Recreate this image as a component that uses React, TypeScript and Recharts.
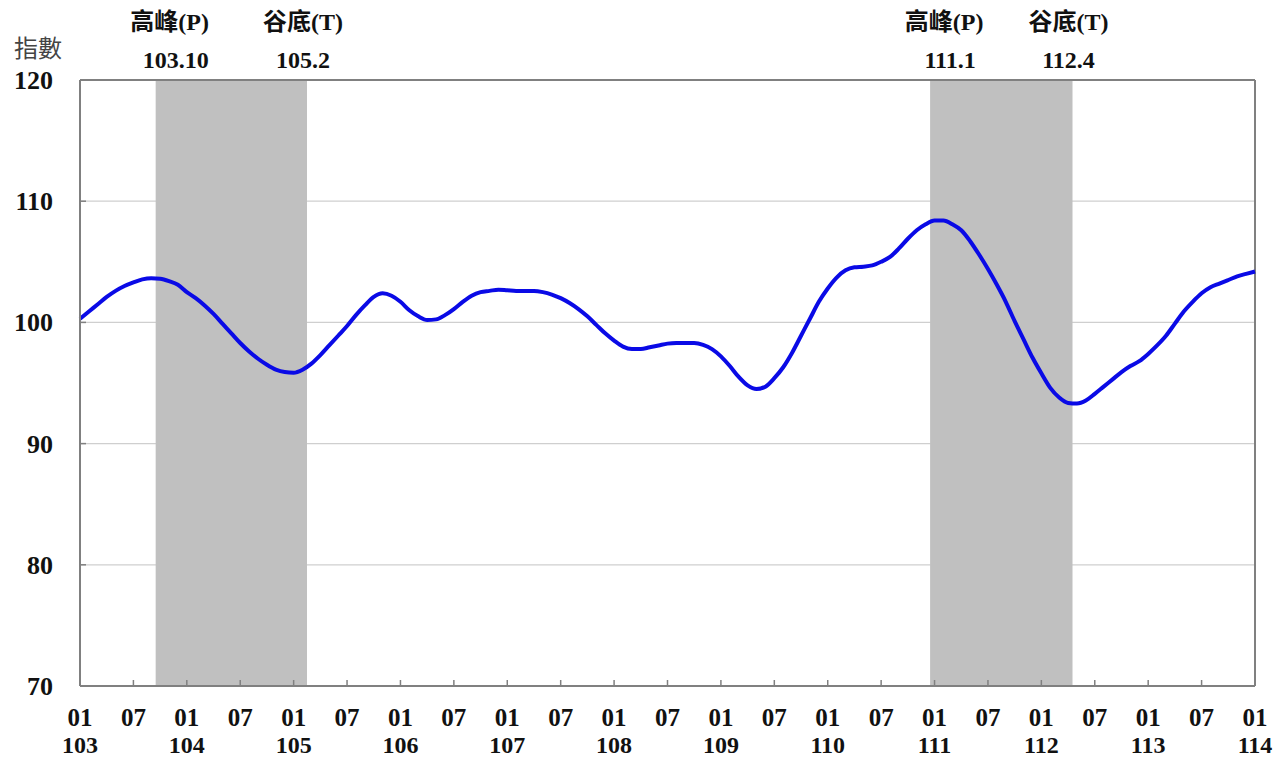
import React from "react"
import { LineChart, Line, XAxis, YAxis, CartesianGrid, ReferenceArea, ReferenceLine } from "recharts"

// monthly index, 103.01 .. 114.01
const values = [
  100.3, 100.9, 101.5, 102.1, 102.6, 103.0, 103.3, 103.55, 103.65, 103.6, 103.4, 103.1,
  102.5, 102.0, 101.4, 100.7, 99.9, 99.1, 98.3, 97.6, 97.0, 96.5, 96.1, 95.9,
  95.85, 96.1, 96.6, 97.3, 98.1, 98.9, 99.7, 100.6, 101.4, 102.1, 102.4, 102.2,
  101.7, 101.0, 100.5, 100.2, 100.25, 100.6, 101.1, 101.7, 102.2, 102.5, 102.6, 102.7,
  102.65, 102.6, 102.6, 102.6, 102.5, 102.3, 102.0, 101.6, 101.1, 100.5, 99.8, 99.1,
  98.5, 98.0, 97.8, 97.8, 97.95, 98.1, 98.25, 98.3, 98.3, 98.3, 98.15, 97.8,
  97.2, 96.4, 95.5, 94.8, 94.5, 94.7, 95.4, 96.3, 97.5, 98.9, 100.3, 101.7,
  102.8, 103.7, 104.3, 104.55, 104.6, 104.7, 105.0, 105.4, 106.1, 106.9, 107.6, 108.1,
  108.4, 108.4, 108.1, 107.6, 106.7, 105.6, 104.4, 103.1, 101.7, 100.1, 98.6, 97.1,
  95.8, 94.6, 93.8, 93.35, 93.3, 93.55, 94.1, 94.7, 95.3, 95.9, 96.4, 96.8,
  97.4, 98.1, 98.9, 99.9, 100.9, 101.7, 102.4, 102.9, 103.2, 103.5, 103.8, 104.0,
  104.2,
]

const startYear = 103
const yTicks = [70, 80, 90, 100, 110, 120]
const xTicks = Array.from({ length: 23 }, (_, i) => i * 6)

// business cycle phases: month index of peak and trough (0 = 103.01)
const cycles = [
  { peak: 9, trough: 25, peakLabel: "103.10", troughLabel: "105.2" },
  { peak: 96, trough: 111, peakLabel: "111.1", troughLabel: "112.4" },
]

const data = values.map((v, i) => ({ m: i, v }))

const serif = "'Liberation Serif', 'Times New Roman', 'Noto Sans CJK TC', serif"
const axisGray = "#808080"

const XTick = ({ x, payload }: any) => {
  const idx = payload.value
  const month = idx % 12 === 0 ? "01" : "07"
  const year = idx % 12 === 0 ? String(startYear + idx / 12) : ""
  return (
    <g>
      <line x1={x} x2={x} y1={686} y2={680} stroke={axisGray} strokeWidth={1.5} />
      <text x={x} y={726} textAnchor="middle" fontFamily={serif} fontWeight="bold" fontSize={25} fill="#111">
        {month}
      </text>
      {year && (
        <text x={x} y={753} textAnchor="middle" fontFamily={serif} fontWeight="bold" fontSize={24} fill="#111">
          {year}
        </text>
      )}
    </g>
  )
}

const YTick = ({ y, payload }: any) => (
  <g>
    {payload.value !== 70 && payload.value !== 120 && (
      <line x1={80} x2={86} y1={y} y2={y} stroke={axisGray} strokeWidth={1.5} />
    )}
    <text x={53} y={y + 9} textAnchor="end" fontFamily={serif} fontWeight="bold" fontSize={26} fill="#111">
      {payload.value}
    </text>
  </g>
)

const cycleLabel = (c: (typeof cycles)[number]) => (props: any) => {
  const vb = props.viewBox
  const px = vb.x + 20
  const tx = vb.x + vb.width - 4
  const st = { fontFamily: serif, fontWeight: "bold" as const, fontSize: 24, fill: "#111" }
  return (
    <g>
      <text x={px - 6} y={30} textAnchor="middle" {...st}>高峰(P)</text>
      <text x={px} y={68} textAnchor="middle" {...st}>{c.peakLabel}</text>
      <text x={tx} y={30} textAnchor="middle" {...st}>谷底(T)</text>
      <text x={tx} y={68} textAnchor="middle" {...st}>{c.troughLabel}</text>
    </g>
  )
}

export default function App() {
  return (
    <div style={{ position: "absolute", left: 0, top: 0, width: 1286, height: 763, background: "#fff" }}>
      <div
        style={{
          position: "absolute",
          left: 14,
          top: 35,
          lineHeight: 1,
          fontFamily: "'Noto Sans CJK TC', sans-serif",
          fontSize: 24,
          color: "#444",
        }}
      >
        指數
      </div>
      <LineChart width={1286} height={763} data={data} margin={{ top: 80, right: 31, bottom: 0, left: 0 }}>
        <CartesianGrid horizontal vertical={false} stroke="#cfcfcf" strokeWidth={1.2} />
        {cycles.map((c) => (
          <ReferenceArea
            key={c.peak}
            x1={c.peak - 0.5}
            x2={c.trough + 0.5}
            y1={70}
            y2={120}
            fill="#c0c0c0"
            fillOpacity={1}
            stroke="none"
            label={cycleLabel(c)}
          />
        ))}
        <ReferenceLine y={120} stroke={axisGray} strokeWidth={2} />
        <ReferenceLine x={132} stroke={axisGray} strokeWidth={2} />
        <XAxis
          dataKey="m"
          type="number"
          domain={[0, 132]}
          ticks={xTicks}
          interval={0}
          height={77}
          axisLine={{ stroke: axisGray, strokeWidth: 2 }}
          tickLine={false}
          tick={<XTick />}
        />
        <YAxis
          type="number"
          domain={[70, 120]}
          ticks={yTicks}
          interval={0}
          width={80}
          axisLine={{ stroke: axisGray, strokeWidth: 2 }}
          tickLine={false}
          tick={<YTick />}
        />
        <Line
          type="monotone"
          dataKey="v"
          stroke="#0a0ae6"
          strokeWidth={4}
          dot={false}
          isAnimationActive={false}
        />
      </LineChart>
    </div>
  )
}
